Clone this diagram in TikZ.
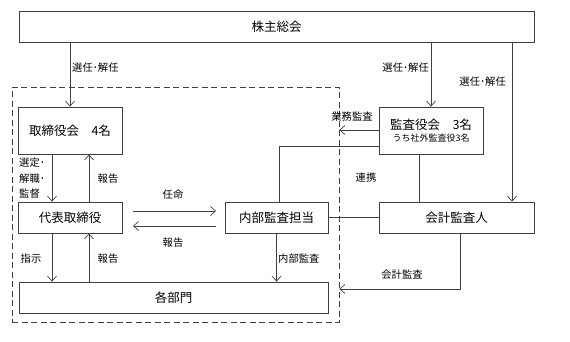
\documentclass[tikz,border=0pt]{standalone}
\usepackage{fontspec}
\setmainfont{Noto Sans CJK JP}
\usetikzlibrary{arrows.meta}
\definecolor{lc}{HTML}{404040}
\begin{document}
\begin{tikzpicture}[x=1pt,y=-1pt,
  box/.style={draw=lc, line width=0.8pt, inner sep=0pt, font=\fontsize{12.5}{15}\selectfont},
  arr/.style={draw=lc, line width=0.7pt, -{Straight Barb[length=5pt,width=9pt,line width=0.7pt]}},
  ln/.style={draw=lc, line width=0.7pt},
  lab/.style={font=\fontsize{10.3}{12}\selectfont, inner sep=0pt}]
\useasboundingbox (0,0) rectangle (570,341);
\fill[white] (0,0) rectangle (570,341);
% group
\node[draw=lc, line width=0.7pt, dash pattern=on 6pt off 3.5pt, minimum width=327pt, minimum height=235pt, inner sep=0pt] (grp) at (175.5,204.5) {};
% boxes
\node[box, minimum width=515pt, minimum height=31pt] (top) at (276.5,26.5) {株主総会};
\node[box, minimum width=104pt, minimum height=47pt] (tori) at (70,130.5) {取締役会　4名};
\node[box, minimum width=104pt, minimum height=31pt] (daihyo) at (70,217.5) {代表取締役};
\node[box, minimum width=103pt, minimum height=31pt] (naibu) at (276.5,217.5) {内部監査担当};
\node[box, minimum width=309pt, minimum height=31pt] (bumon) at (173.5,297.5) {各部門};
\node[box, minimum width=104pt, minimum height=47pt, align=center] (kansa) at (431,130.5) {監査役会　3名\\[-3pt]{\fontsize{9}{11}\selectfont うち社外監査役3名}};
\node[box, minimum width=155pt, minimum height=31pt] (kaikei) at (456.5,217.5) {会計監査人};
% helper coordinates
\coordinate (xa) at (52,0);
\coordinate (xb) at (89,0);
\coordinate (xr) at (512,0);
\coordinate (xn) at (279,0);
\coordinate (xk) at (419,0);
\coordinate (xc) at (460,0);
\coordinate (y1) at (0,130);
\coordinate (y2) at (0,146);
\coordinate (y3) at (0,289);
\coordinate (a1) at (133,211);
\coordinate (a2) at (216,211);
\coordinate (b1) at (216,226);
\coordinate (b2) at (133,226);
% connectors
\draw[arr] (tori.north |- top.south) -- (tori.north);
\draw[arr] (kansa.north |- top.south) -- (kansa.north);
\draw[arr] (xr |- top.south) -- (xr |- kaikei.north);
\draw[arr] (xa |- tori.south) -- (xa |- daihyo.north);
\draw[arr] (xb |- daihyo.north) -- (xb |- tori.south);
\draw[arr] (xa |- daihyo.south) -- (xa |- bumon.north);
\draw[arr] (xb |- bumon.north) -- (xb |- daihyo.south);
\draw[arr] (a1) -- (a2);
\draw[arr] (b1) -- (b2);
\draw[arr] (naibu.south) -- (naibu.south |- bumon.north);
\draw[arr] (kansa.west |- y1) -- (grp.east |- y1);
\draw[ln] (kansa.west |- y2) -- (xn |- y2) -- (xn |- naibu.north);
\draw[ln] (xk |- kansa.south) -- (xk |- kaikei.north);
\draw[ln] (naibu.east) -- (kaikei.west);
\draw[arr] (xc |- kaikei.south) -- (xc |- y3) -- (grp.east |- y3);
% labels
\node[lab, anchor=west] at (72,68) {選任･解任};
\node[lab, anchor=east] at (429,68) {選任･解任};
\node[lab, anchor=east] at (506,82) {選任･解任};
\node[lab, anchor=west, align=left, font=\fontsize{10.3}{15.5}\selectfont] at (19,178.5) {選定･\\解職･\\監督};
\node[lab] at (108,179) {報告};
\node[lab] at (173,195) {任命};
\node[lab] at (173,243) {報告};
\node[lab] at (31,259) {指示};
\node[lab] at (108,259) {報告};
\node[lab, anchor=west] at (278,259) {内部監査};
\node[lab] at (352,117) {業務監査};
\node[lab] at (366,178) {連携};
\node[lab] at (402,275) {会計監査};
\end{tikzpicture}
\end{document}
